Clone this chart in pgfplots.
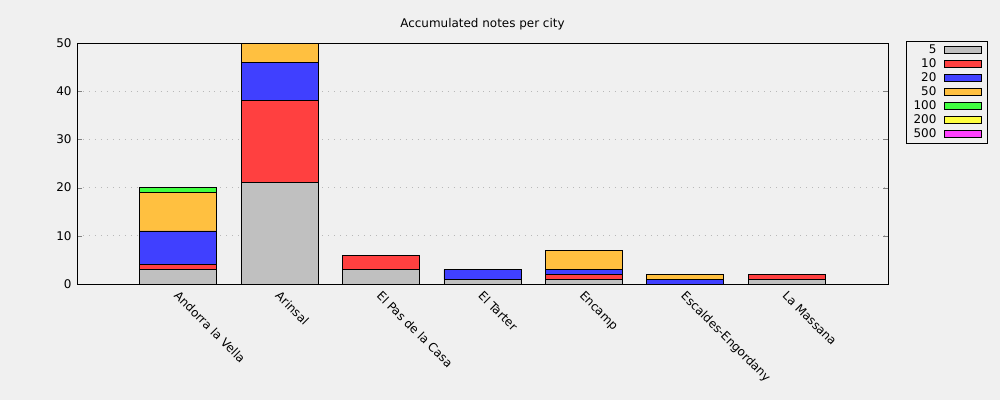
\documentclass[border=0pt]{standalone}
\usepackage{pgfplots}
\pgfplotsset{compat=1.18}
\usepackage{fontspec}
\setmainfont{DejaVu Sans}
\usetikzlibrary{backgrounds}

\definecolor{bg}{HTML}{F0F0F0}
\definecolor{c5}{HTML}{C0C0C0}
\definecolor{c10}{HTML}{FF4040}
\definecolor{c20}{HTML}{4040FF}
\definecolor{c50}{HTML}{FFC040}
\definecolor{c100}{HTML}{40FF40}
\definecolor{c200}{HTML}{FFFF40}
\definecolor{c500}{HTML}{FF40FF}
\definecolor{gridc}{HTML}{B8B8B8}

% notes per denomination, one row per city (x = 0..6)
\pgfplotstableread{
x  n5 n10 n20 n50 n100 n200 n500
0  3  1   7   8   1    0    0
1  21 17  8   4   0    0    0
2  3  3   0   0   0    0    0
3  1  0   2   0   0    0    0
4  1  1   1   4   0    0    0
5  0  0   1   1   0    0    0
6  1  1   0   0   0    0    0
}\notes

\begin{document}
\begin{tikzpicture}[x=1bp,y=1bp]
\fill[bg] (0,0) rectangle (1000,400);
\begin{axis}[
    at={(77bp,116bp)}, anchor=south west,
    scale only axis, width=811bp, height=241bp,
    font=\fontsize{12}{14}\selectfont,
    /pgf/number format/assume math mode=true,
    ybar stacked, bar width=0.76,
    xmin=-1, xmax=7, ymin=0, ymax=50,
    xtick=data,
    xticklabels={Andorra la Vella,Arinsal,El Pas de la Casa,El Tarter,Encamp,Escaldes-Engordany,La Massana},
    xticklabel style={rotate=-45, anchor=north west, xshift=2bp},
    major x tick style={draw=none},
    ytick={0,10,...,50},
    tick align=inside, ytick pos=both,
    major tick length=5bp,
    yticklabel style={xshift=-2bp},
    ymajorgrids, grid style={gridc, line width=0.8pt, dash pattern=on 1pt off 5pt},
    axis line style={black, line width=0.8pt},
    axis background/.style={fill=bg},
    title={Accumulated notes per city},
    title style={at={(0.5,1)}, anchor=south, yshift=4bp, font=\fontsize{12}{14}\selectfont},
    legend style={at={(1.022,1.008)}, anchor=north west, draw=black, fill=bg,
        font=\fontsize{12}{12}\selectfont, row sep=0bp, column sep=6bp,
        inner xsep=6bp, inner ysep=2bp,
        nodes={anchor=east, inner sep=1.5bp, text height=9bp, text depth=2bp}},
    legend plot pos=right,
    legend image code/.code={\draw[#1, line width=0.8pt] (0bp,-3.5bp) rectangle (37bp,3.5bp);},
    every axis plot/.append style={draw=black, line width=0.9pt},
]
\addplot[fill=c5] table[x=x,y=n5] {\notes};
\addplot[fill=c10] table[x=x,y=n10] {\notes};
\addplot[fill=c20] table[x=x,y=n20] {\notes};
\addplot[fill=c50] table[x=x,y=n50] {\notes};
\addplot[fill=c100] table[x=x,y=n100] {\notes};
\addplot[fill=c200] table[x=x,y=n200] {\notes};
\addplot[fill=c500] table[x=x,y=n500] {\notes};
\legend{5,10,20,50,100,200,500}
\end{axis}
\end{tikzpicture}
\end{document}
